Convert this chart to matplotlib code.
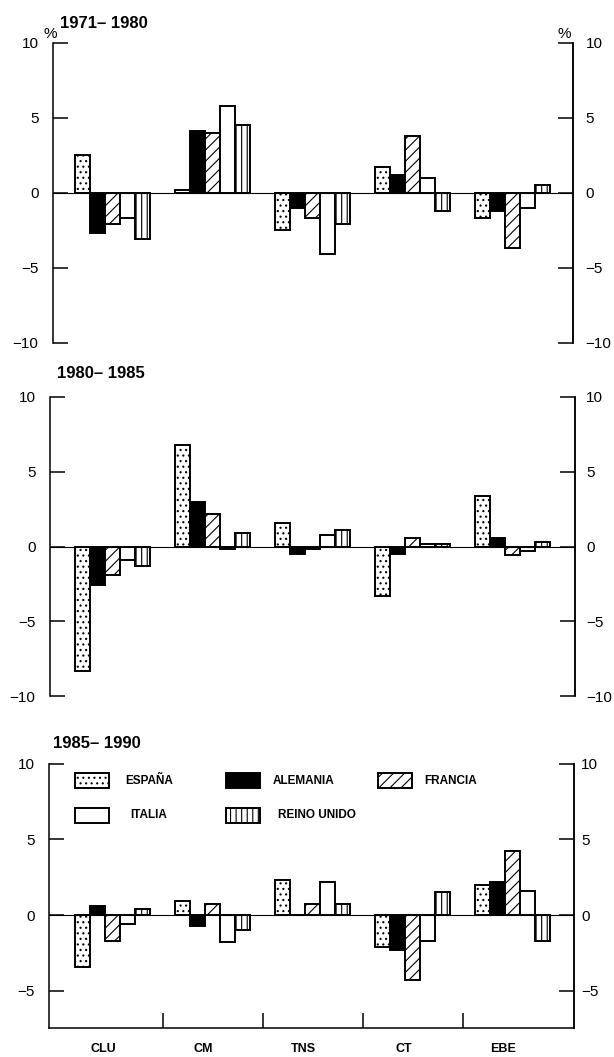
import numpy as np
import matplotlib.pyplot as plt
from matplotlib.patches import Rectangle

plt.rcParams['font.family'] = ['Liberation Sans', 'DejaVu Sans']
plt.rcParams['hatch.linewidth'] = 0.8

SECTORES = ['CLU', 'CM', 'TNS', 'CT', 'EBE']
PAISES = ['ESPAÑA', 'ALEMANIA', 'FRANCIA', 'ITALIA', 'REINO UNIDO']
PERIODOS = ['1971– 1980', '1980– 1985', '1985– 1990']

# tasas (%) por pais (filas) y sector (columnas)
tasas_7180 = [
    [2.5, 0.2, -2.5, 1.7, -1.7],
    [-2.7, 4.1, -1.0, 1.2, -1.2],
    [-2.1, 4.0, -1.7, 3.8, -3.7],
    [-1.7, 5.8, -4.1, 1.0, -1.0],
    [-3.1, 4.5, -2.1, -1.2, 0.5],
]
tasas_8085 = [
    [-8.3, 6.8, 1.6, -3.3, 3.4],
    [-2.6, 3.0, -0.5, -0.5, 0.6],
    [-1.9, 2.2, -0.2, 0.6, -0.6],
    [-0.9, -0.2, 0.8, 0.2, -0.3],
    [-1.3, 0.9, 1.1, 0.2, 0.3],
]
tasas_8590 = [
    [-3.4, 0.9, 2.3, -2.1, 2.0],
    [0.6, -0.7, 0.0, -2.3, 2.2],
    [-1.7, 0.7, 0.7, -4.3, 4.2],
    [-0.6, -1.8, 2.2, -1.7, 1.6],
    [0.4, -1.0, 0.7, 1.5, -1.7],
]

# relleno de cada pais: (color, trama)
ESTILOS = [('white', '...'), ('black', None), ('white', '///'),
           ('white', None), ('white', '|||')]

W, H = 614, 1057
fig = plt.figure(figsize=(W / 100, H / 100), dpi=100)


def fx(px):
    return px / W


def fy(py):
    return 1 - py / H


# caja de cada panel en pixeles: izquierda, derecha, arriba, abajo, ymin
CAJAS = [(53, 573, 42.7, 342.7, -10),
         (50, 575, 397, 696, -10),
         (49, 574, 763.5, 1028, -7.45)]
PAD_DER = [9, 8, 5]
TIT_POS = [(60, 28), (57, 378), (53, 748)]
X0_PX, PASO_PX = 112.5, 100.0
ANCHO = 0.15

datos = [tasas_7180, tasas_8085, tasas_8590]
x = np.arange(len(SECTORES))

for n, (tasas, caja) in enumerate(zip(datos, CAJAS)):
    l, r, t, b, ymin = caja
    ax = fig.add_axes([fx(l), fy(b), (r - l) / W, (b - t) / H])
    for k, fila in enumerate(tasas):
        color, trama = ESTILOS[k]
        ax.bar(x + (k - 2) * ANCHO, fila, ANCHO, color=color, hatch=trama,
               edgecolor='black', linewidth=1.4)
    ax.axhline(0, color='black', lw=0.8)
    ax.set_xlim((l - X0_PX) / PASO_PX, (r - X0_PX) / PASO_PX)
    ax.set_ylim(ymin, 10)
    ticks = [v for v in (-10, -5, 0, 5, 10) if v >= ymin]

    for s in ('top', 'bottom'):
        ax.spines[s].set_visible(False)
    for s in ('left', 'right'):
        ax.spines[s].set_linewidth(1.1)
    ax.set_yticks(ticks)
    ax.tick_params(axis='y', direction='in', length=11, width=1.1,
                   labelsize=11, pad=10.5)

    der = ax.twinx()
    der.set_ylim(ymin, 10)
    der.set_yticks(ticks)
    for s in ('top', 'bottom', 'left'):
        der.spines[s].set_visible(False)
    der.spines['right'].set_linewidth(1.1)
    der.tick_params(axis='y', direction='in', length=11, width=1.1,
                    labelsize=11, pad=PAD_DER[n])

    if n < 2:
        ax.set_xticks([])
    else:
        ax.spines['bottom'].set_visible(True)
        ax.spines['bottom'].set_linewidth(1.1)
        ax.set_xticks(x[:-1] + 0.5)
        ax.set_xticklabels([])
        ax.tick_params(axis='x', which='major', direction='in', length=11,
                       width=1.1)
        ax.set_xticks(x - 0.09, minor=True)
        ax.set_xticklabels(SECTORES, minor=True, fontsize=9,
                           fontweight='bold')
        ax.tick_params(axis='x', which='minor', length=0, pad=11)

    tx, ty = TIT_POS[n]
    fig.text(fx(tx), fy(ty), PERIODOS[n], fontsize=12, fontweight='bold',
             ha='left', va='baseline')

fig.text(fx(44), fy(38), '%', fontsize=11, ha='left', va='baseline')
fig.text(fx(557), fy(38), '%', fontsize=11, ha='left', va='baseline')

# leyenda dentro del ultimo panel
LEY = [(0, 75, 773, 125), (1, 226, 773, 273), (2, 378, 773, 424),
       (3, 75, 808, 130), (4, 226, 808, 278)]
for k, px, py, tx in LEY:
    color, trama = ESTILOS[k]
    fig.add_artist(Rectangle((fx(px), fy(py + 15)), 34 / W, 15 / H,
                             transform=fig.transFigure, facecolor=color,
                             hatch=trama, edgecolor='black', linewidth=1.4))
    fig.text(fx(tx), fy(py + 7.5), PAISES[k], fontsize=8.5, fontweight='bold',
             ha='left', va='center')

fig.savefig('out.png', dpi=100)
